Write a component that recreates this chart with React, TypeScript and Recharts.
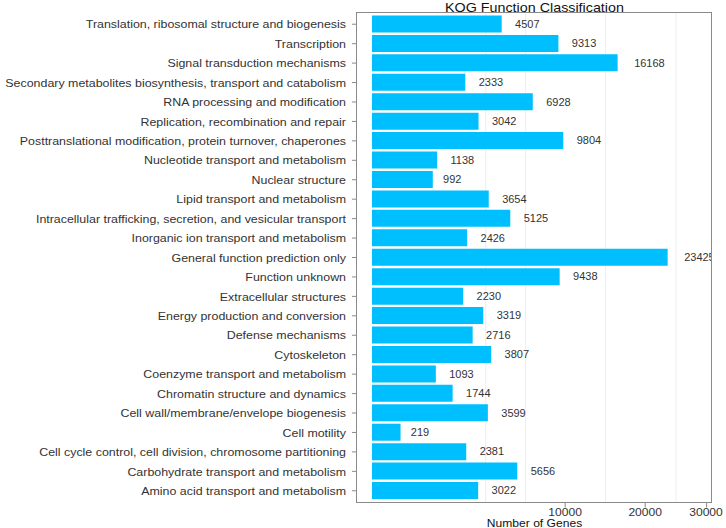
import { BarChart, Bar, XAxis, YAxis, LabelList, CartesianGrid, Label } from 'recharts';

const categories = [
  'Translation, ribosomal structure and biogenesis',
  'Transcription',
  'Signal transduction mechanisms',
  'Secondary metabolites biosynthesis, transport and catabolism',
  'RNA processing and modification',
  'Replication, recombination and repair',
  'Posttranslational modification, protein turnover, chaperones',
  'Nucleotide transport and metabolism',
  'Nuclear structure',
  'Lipid transport and metabolism',
  'Intracellular trafficking, secretion, and vesicular transport',
  'Inorganic ion transport and metabolism',
  'General function prediction only',
  'Function unknown',
  'Extracellular structures',
  'Energy production and conversion',
  'Defense mechanisms',
  'Cytoskeleton',
  'Coenzyme transport and metabolism',
  'Chromatin structure and dynamics',
  'Cell wall/membrane/envelope biogenesis',
  'Cell motility',
  'Cell cycle control, cell division, chromosome partitioning',
  'Carbohydrate transport and metabolism',
  'Amino acid transport and metabolism',
];

const geneCounts = [
  4507, 9313, 16168, 2333, 6928, 3042, 9804, 1138, 992, 3654, 5125, 2426, 23425,
  9438, 2230, 3319, 2716, 3807, 1093, 1744, 3599, 219, 2381, 5656, 3022,
];

const xTicks = [10000, 20000, 30000];
const xDomain = [-60, 30976];
const minorGrid = [3467, 6329, 14630, 24758];

const data = categories.map((name, i) => ({ name, value: geneCounts[i] }));

const W = 726;
const H = 528;
const PLOT_LEFT = 357;
const PLOT_RIGHT = 712;
const FONT = '"Liberation Sans", Arial, Helvetica, sans-serif';
const BORDER = '#8a8a8a';
const STRETCH = 1.12;

const ssqrt = (v: number) => (v < 0 ? -Math.sqrt(-v) : Math.sqrt(v));

// minor grid positions from the sqrt x scale
function gridPositions({ xAxis, offset }: any) {
  if (xAxis && typeof xAxis.scale === 'function') return minorGrid.map((v) => xAxis.scale(v));
  const t0 = ssqrt(xDomain[0]);
  const t1 = ssqrt(xDomain[1]);
  return minorGrid.map((v) => offset.left + (offset.width * (ssqrt(v) - t0)) / (t1 - t0));
}

function YTick(props: any) {
  const { x, y, payload } = props;
  return (
    <g transform={`translate(${x},${y})`}>
      <text
        transform="scale(1.15,1)"
        textAnchor="end"
        dominantBaseline="central"
        fontSize={10.8}
        fill="#333"
        fontFamily={FONT}
      >
        {payload.value}
      </text>
    </g>
  );
}

function XTick(props: any) {
  const { x, y, payload } = props;
  return (
    <g transform={`translate(${x},${y})`}>
      <text
        transform={`scale(${STRETCH},1)`}
        textAnchor="middle"
        dy="0.72em"
        fontSize={10.8}
        fill="#333"
        fontFamily={FONT}
      >
        {payload.value}
      </text>
    </g>
  );
}

function ValueLabel(props: any) {
  const { x, y, width, height, value } = props;
  const s = String(value);
  const gap = 1 + s.length * 3.1;
  return (
    <g transform={`translate(${x + width + gap},${y + height / 2})`}>
      <text
        transform="scale(1.1,1)"
        dominantBaseline="central"
        fontSize={10}
        fill="#333"
        fontFamily={FONT}
      >
        {s}
      </text>
    </g>
  );
}

function TitleLabel(props: any) {
  const { viewBox } = props;
  const cx = viewBox.x + viewBox.width / 2;
  return (
    <g transform={`translate(${cx},11.5)`}>
      <text transform="scale(1.06,1)" textAnchor="middle" fontSize={13.5} fill="#111" fontFamily={FONT}>
        KOG Function Classification
      </text>
    </g>
  );
}

function AxisTitle(props: any) {
  const { viewBox } = props;
  const cx = viewBox.x + viewBox.width / 2;
  return (
    <g transform={`translate(${cx},${viewBox.y + viewBox.height - 1})`}>
      <text transform={`scale(${STRETCH},1)`} textAnchor="middle" fontSize={10.8} fill="#111" fontFamily={FONT}>
        Number of Genes
      </text>
    </g>
  );
}

export default function App() {
  return (
    <div style={{ position: 'absolute', left: 0, top: 0, width: W, height: H, background: '#fff' }}>
      <BarChart
        width={W}
        height={H}
        data={data}
        layout="vertical"
        margin={{ top: 12.5, right: W - PLOT_RIGHT, bottom: 0, left: 0 }}
        barCategoryGap="5%"
      >
        <CartesianGrid horizontal={false} stroke="#eeeeee" verticalCoordinatesGenerator={gridPositions} />
        <XAxis
          type="number"
          scale="sqrt"
          domain={xDomain}
          allowDataOverflow
          ticks={xTicks}
          height={25.5}
          tickSize={5}
          tickMargin={1}
          tick={<XTick />}
          axisLine={false}
          stroke={BORDER}
        >
          <Label content={<AxisTitle />} />
          <Label content={<TitleLabel />} />
        </XAxis>
        <YAxis
          type="category"
          dataKey="name"
          width={PLOT_LEFT}
          interval={0}
          tickSize={5}
          tickMargin={6}
          padding={{ top: 2, bottom: 2 }}
          tick={<YTick />}
          axisLine={false}
          stroke={BORDER}
        />
        <Bar dataKey="value" fill="#00BFFF" isAnimationActive={false}>
          <LabelList dataKey="value" content={<ValueLabel />} />
        </Bar>
      </BarChart>
      {/* mask anything drawn past the panel's right edge */}
      <div
        style={{
          position: 'absolute',
          left: PLOT_RIGHT,
          top: 12,
          width: W - PLOT_RIGHT,
          height: 491,
          background: '#fff',
        }}
      />
      <div
        style={{
          position: 'absolute',
          left: PLOT_LEFT - 1,
          top: 12,
          width: PLOT_RIGHT - PLOT_LEFT + 1,
          height: 491,
          boxSizing: 'border-box',
          border: `1px solid ${BORDER}`,
          pointerEvents: 'none',
        }}
      />
    </div>
  );
}
